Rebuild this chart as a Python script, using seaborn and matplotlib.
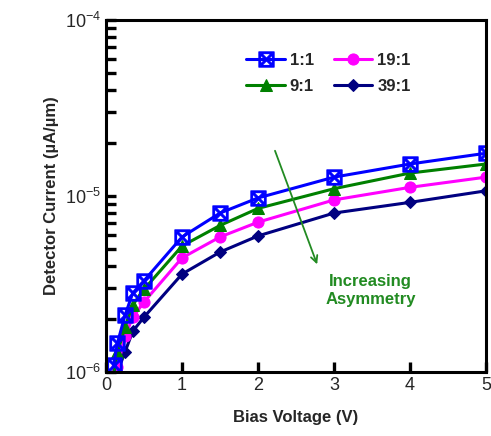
import matplotlib
matplotlib.use("Agg")
import matplotlib.pyplot as plt
import pandas as pd
import seaborn as sns
from matplotlib.ticker import LogLocator, NullFormatter

# bias voltage points (V)
VOLTS = [0.1, 0.15, 0.25, 0.35, 0.5, 1.0, 1.5, 2.0, 3.0, 4.0, 5.0]

# detector current (uA/um) per asymmetry ratio
I_1_1 = [1.1e-6, 1.46e-6, 2.1e-6, 2.8e-6, 3.3e-6, 5.85e-6, 8.0e-6, 9.75e-6, 1.28e-5, 1.52e-5, 1.75e-5]
I_9_1 = [0.97e-6, 1.29e-6, 1.8e-6, 2.4e-6, 2.95e-6, 5.2e-6, 6.8e-6, 8.5e-6, 1.1e-5, 1.35e-5, 1.52e-5]
I_19_1 = [0.88e-6, 1.07e-6, 1.6e-6, 2.04e-6, 2.5e-6, 4.45e-6, 5.85e-6, 7.1e-6, 9.5e-6, 1.12e-5, 1.28e-5]
I_39_1 = [0.8e-6, 1.0e-6, 1.3e-6, 1.7e-6, 2.05e-6, 3.6e-6, 4.8e-6, 5.93e-6, 8.0e-6, 9.2e-6, 1.07e-5]

# legend order (column-wise fill for a 2-column legend)
RATIOS = ["1:1", "9:1", "19:1", "39:1"]
COLORS = {"1:1": "#0000FF", "19:1": "#FF00FF", "9:1": "#008000", "39:1": "#000080"}
MARKERS = {"1:1": r"$\boxtimes$", "19:1": "o", "9:1": "^", "39:1": "D"}


def build_frame() -> pd.DataFrame:
    series = {"1:1": I_1_1, "19:1": I_19_1, "9:1": I_9_1, "39:1": I_39_1}
    rows = []
    for name, vals in series.items():
        for v, i in zip(VOLTS, vals):
            rows.append({"Voltage": v, "Current": i, "Ratio": name})
    return pd.DataFrame(rows)


def main() -> None:
    sns.set_theme(style="ticks")
    plt.rcParams["font.family"] = ["Liberation Sans", "DejaVu Sans"]
    df = build_frame()

    fig = plt.figure(figsize=(4.91, 4.36), dpi=100)
    ax = fig.add_axes([0.216, 0.147, 0.774, 0.807])

    sizes = {"1:1": 11, "19:1": 8, "9:1": 8, "39:1": 6}
    for name in ["39:1", "19:1", "9:1", "1:1"]:
        sub = df[df["Ratio"] == name]
        sns.lineplot(
            data=sub, x="Voltage", y="Current", ax=ax, color=COLORS[name],
            marker=MARKERS[name], markersize=sizes[name], markeredgecolor=COLORS[name],
            linewidth=2.2, label=name,
        )

    ax.set_yscale("log")
    ax.tick_params(which="both", direction="in", length=7, width=2.4, color="black",
                   labelsize=13)
    ax.set_xlim(0, 5)
    ax.set_ylim(1e-6, 1e-4)
    ax.set_xticks([0, 1, 2, 3, 4, 5])
    ax.set_xticklabels(["0", "1", "2", "3", "4", "5"])
    ax.yaxis.set_minor_formatter(NullFormatter())
    for s in ax.spines.values():
        s.set_linewidth(2.2)
        s.set_color("black")

    ax.set_xlabel("Bias Voltage (V)", fontsize=12, fontweight="bold", labelpad=12)
    ax.set_ylabel("Detector Current (µA/µm)", fontsize=12, fontweight="bold", labelpad=4)

    handles, labels = ax.get_legend_handles_labels()
    order = [labels.index(r) for r in RATIOS]
    ax.legend([handles[i] for i in order], RATIOS, ncol=2, loc="upper left",
              bbox_to_anchor=(0.33, 0.95), frameon=False, handlelength=2.3,
              columnspacing=1.2, handletextpad=0.3, labelspacing=0.7,
              prop={"weight": "bold", "size": 12})

    ax.annotate("", xy=(2.79, 3.95e-6), xytext=(2.21, 1.87e-5),
                arrowprops=dict(arrowstyle="->", color="#228B22", lw=1.3))
    ax.text(3.48, 2.9e-6, "Increasing\nAsymmetry", color="#228B22", fontsize=12,
            fontweight="bold", ha="center", va="center", linespacing=1.3)

    fig.savefig("out.png", dpi=100)
    plt.close(fig)


if __name__ == "__main__":
    main()
